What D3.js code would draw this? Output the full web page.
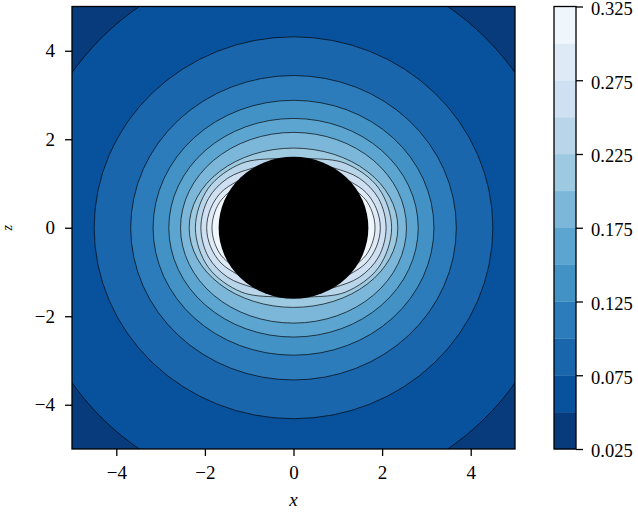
<!DOCTYPE html>
<meta charset="utf-8">
<style>
body { margin: 0; background: #fff; }
.tick line { stroke: #000; stroke-width: 1.3px; }
.lbl { font-family: "Liberation Serif", serif; font-style: italic; }
</style>
<svg width="638" height="514"></svg>
<script src="https://d3js.org/d3.v7.min.js"></script>
<script>
// filled contour boundaries (colorbar levels)
var levels = [0.025, 0.05, 0.075, 0.1, 0.125, 0.15, 0.175, 0.2, 0.225, 0.25, 0.275, 0.3, 0.325];
var outerLevels = [0.05, 0.075, 0.1, 0.125, 0.15, 0.175, 0.2];
var outerRx = [6.12, 4.50, 3.675, 3.17, 2.815, 2.55, 2.355];
var outerRz = [6.08, 4.315, 3.44, 2.88, 2.47, 2.155, 1.80];
// inner contour lines (they run into the black region): [angle from x axis in degrees, radius]
var innerLevels = [0.225, 0.25, 0.275, 0.3];
var innerShape = [
  [[0, 2.215], [25, 2.12], [51, 1.87], [76, 1.61], [90, 1.55]],
  [[0, 2.09], [19, 2.03], [37, 1.86], [56, 1.63], [75, 1.52], [90, 1.48]],
  [[0, 1.96], [13, 1.92], [26, 1.82], [39, 1.655], [60, 1.5], [90, 1.45]],
  [[0, 1.84], [9, 1.82], [19, 1.765], [28, 1.67], [45, 1.5], [90, 1.45]]
];
// black region in the middle
var holeRx = 1.69, holeRz = 1.605;
var xTicks = [-4, -2, 0, 2, 4];
var zTicks = [-4, -2, 0, 2, 4];
var cbTicks = [0.025, 0.075, 0.125, 0.175, 0.225, 0.275, 0.325];
// matplotlib "Blues" colormap stops
var bluesStops = ["#f7fbff", "#deebf7", "#c6dbef", "#9ecae1", "#6baed6", "#4292c6", "#2171b5", "#08519c", "#08306b"];

var svg = d3.select("svg");
var x = d3.scaleLinear().domain([-5, 5]).range([72, 515]);
var z = d3.scaleLinear().domain([-5, 5]).range([449, 6.5]);
var cb = d3.scaleLinear().domain([levels[0], levels[levels.length - 1]]).range([449, 6.5]);

var blues = d3.scaleLinear().domain(d3.range(9).map(function(i) { return i / 8; })).range(bluesStops);
// reversed colormap, coloured at band midpoints
var norm = d3.scaleLinear().domain([levels[0], levels[levels.length - 1]]).range([1, 0]);
function bandColor(i) { return blues(norm((levels[i] + levels[i + 1]) / 2)); }

// mirror one quadrant of [deg, r] samples into a closed ring of [x, z]
function ring(q) {
  var pts = [];
  q.forEach(function(p) {
    [p[0], 180 - p[0], 180 + p[0], 360 - p[0]].forEach(function(a) {
      a = (a + 360) % 360;
      if (!pts.some(function(o) { return Math.abs(o.a - a) < 1e-6; })) pts.push({a: a, r: p[1]});
    });
  });
  pts.sort(function(m, n) { return m.a - n.a; });
  return pts.map(function(o) {
    var t = o.a * Math.PI / 180;
    return [o.r * Math.cos(t), o.r * Math.sin(t)];
  });
}

var line = d3.line()
  .x(function(d) { return x(d[0]); })
  .y(function(d) { return z(d[1]); })
  .curve(d3.curveCatmullRomClosed);

svg.append("clipPath").attr("id", "clip")
  .append("rect")
  .attr("x", x(-5)).attr("y", z(5))
  .attr("width", x(5) - x(-5)).attr("height", z(-5) - z(5));

var plot = svg.append("g").attr("clip-path", "url(#clip)");

plot.append("rect")
  .attr("x", x(-5)).attr("y", z(5))
  .attr("width", x(5) - x(-5)).attr("height", z(-5) - z(5))
  .attr("fill", bandColor(0));

plot.selectAll("ellipse.c")
  .data(outerLevels)
  .enter().append("ellipse")
  .attr("class", "c")
  .attr("cx", x(0))
  .attr("cy", z(0))
  .attr("rx", function(d, i) { return x(outerRx[i]) - x(0); })
  .attr("ry", function(d, i) { return z(0) - z(outerRz[i]); })
  .attr("fill", function(d) { return bandColor(levels.indexOf(d)); })
  .attr("stroke", "#000")
  .attr("stroke-opacity", 0.9)
  .attr("stroke-width", 0.75);

plot.selectAll("path.c")
  .data(innerLevels)
  .enter().append("path")
  .attr("class", "c")
  .attr("d", function(d, i) { return line(ring(innerShape[i])); })
  .attr("fill", function(d) { return bandColor(levels.indexOf(d)); })
  .attr("stroke", "#000")
  .attr("stroke-opacity", 0.9)
  .attr("stroke-width", 0.75);

plot.append("ellipse")
  .attr("cx", x(0)).attr("cy", z(0))
  .attr("rx", x(holeRx) - x(0))
  .attr("ry", z(0) - z(holeRz))
  .attr("fill", "#000");

svg.append("rect")
  .attr("x", x(-5)).attr("y", z(5))
  .attr("width", x(5) - x(-5)).attr("height", z(-5) - z(5))
  .attr("fill", "none").attr("stroke", "#000").attr("stroke-width", 1.3);

function styleAxis(g) {
  g.select(".domain").remove();
  g.attr("font-family", "Liberation Serif, serif").attr("font-size", 19);
  g.selectAll(".tick text").attr("fill", "#000");
}

svg.append("g")
  .attr("transform", "translate(0," + z(-5) + ")")
  .call(d3.axisBottom(x).tickValues(xTicks).tickSize(7).tickPadding(10).tickFormat(d3.format("d")))
  .call(styleAxis);

svg.append("g")
  .attr("transform", "translate(" + x(-5) + ",0)")
  .call(d3.axisLeft(z).tickValues(zTicks).tickSize(7).tickPadding(10).tickFormat(d3.format("d")))
  .call(styleAxis);

svg.append("text").attr("class", "lbl")
  .attr("x", x(0)).attr("y", 505.5)
  .attr("text-anchor", "middle").attr("font-size", 19)
  .text("x");

svg.append("text").attr("class", "lbl")
  .attr("transform", "translate(12," + z(0) + ") rotate(-90)")
  .attr("text-anchor", "middle").attr("font-size", 14)
  .text("z");

// colorbar
var cbX = 554, cbW = 22;
svg.selectAll("rect.band")
  .data(d3.range(levels.length - 1))
  .enter().append("rect")
  .attr("class", "band")
  .attr("x", cbX)
  .attr("y", function(i) { return cb(levels[i + 1]); })
  .attr("width", cbW)
  .attr("height", function(i) { return cb(levels[i]) - cb(levels[i + 1]) + 0.3; })
  .attr("fill", function(i) { return bandColor(i); });

svg.append("rect")
  .attr("x", cbX).attr("y", cb(levels[levels.length - 1]))
  .attr("width", cbW).attr("height", cb(levels[0]) - cb(levels[levels.length - 1]))
  .attr("fill", "none").attr("stroke", "#000").attr("stroke-width", 1.3);

svg.append("g")
  .attr("transform", "translate(" + (cbX + cbW) + ",0)")
  .call(d3.axisRight(cb).tickValues(cbTicks).tickSize(7).tickPadding(8).tickFormat(d3.format(".3f")))
  .call(styleAxis)
  .attr("font-size", 18.5)
  .selectAll(".tick text").attr("dy", "0.42em");
</script>
